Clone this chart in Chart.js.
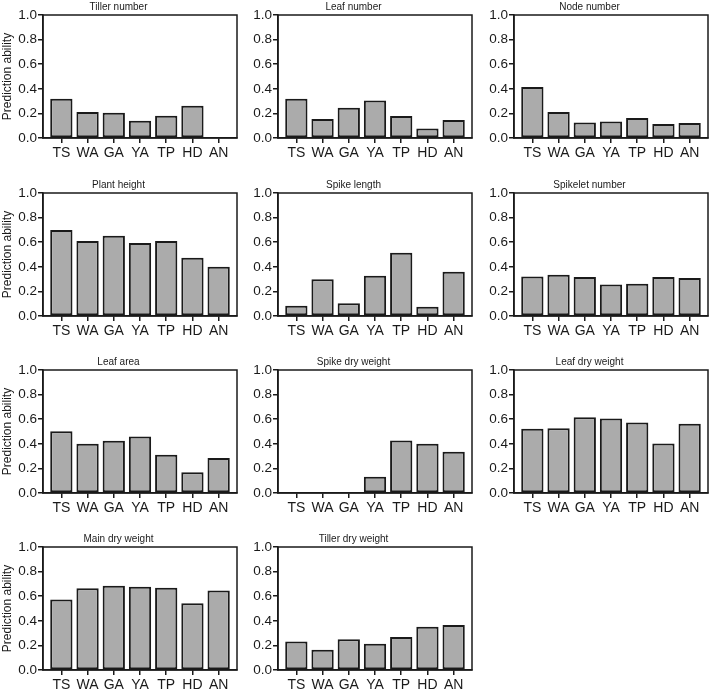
<!DOCTYPE html>
<html>
<head>
<meta charset="utf-8">
<script src="https://cdn.jsdelivr.net/npm/chart.js@4.4.1/dist/chart.umd.min.js"></script>
<style>
  html, body { margin: 0; padding: 0; background: #ffffff; }
  body { width: 709px; height: 689px; position: relative; overflow: hidden; }
  canvas { position: absolute; }
</style>
</head>
<body>
<script>
// categories shared by every panel
var categories = ['TS', 'WA', 'GA', 'YA', 'TP', 'HD', 'AN'];
var yTicks = [0, 0.2, 0.4, 0.6, 0.8, 1.0];

// values, one array per trait
var tillerNumber = [0.319, 0.211, 0.205, 0.141, 0.181, 0.262, null];
var leafNumber = [0.319, 0.154, 0.246, 0.305, 0.178, 0.078, 0.146];
var nodeNumber = [0.414, 0.211, 0.127, 0.135, 0.162, 0.114, 0.122];
var plantHeight = [0.699, 0.610, 0.653, 0.593, 0.610, 0.474, 0.401];
var spikeLength = [0.084, 0.298, 0.103, 0.328, 0.515, 0.076, 0.360];
var spikeletNumber = [0.322, 0.336, 0.317, 0.257, 0.263, 0.317, 0.309];
var leafArea = [0.503, 0.400, 0.424, 0.459, 0.311, 0.168, 0.284];
var spikeDryWeight = [null, null, null, 0.132, 0.427, 0.400, 0.335];
var leafDryWeight = [0.522, 0.527, 0.616, 0.605, 0.573, 0.403, 0.562];
var mainDryWeight = [0.573, 0.665, 0.684, 0.676, 0.668, 0.543, 0.646];
var tillerDryWeight = [0.232, 0.165, 0.249, 0.214, 0.268, 0.351, 0.365];

var panels = [
    { title: 'Tiller number', values: tillerNumber },
    { title: 'Leaf number', values: leafNumber },
    { title: 'Node number', values: nodeNumber },
    { title: 'Plant height', values: plantHeight },
    { title: 'Spike length', values: spikeLength },
    { title: 'Spikelet number', values: spikeletNumber },
    { title: 'Leaf area', values: leafArea },
    { title: 'Spike dry weight', values: spikeDryWeight },
    { title: 'Leaf dry weight', values: leafDryWeight },
    { title: 'Main dry weight', values: mainDryWeight },
    { title: 'Tiller dry weight', values: tillerDryWeight }
];

// where the plot boxes sit on the page
var colLeft = [43, 278, 514];
var rowTop = [15, 193, 370, 547];
var plotW = 194;
var plotH = 123;
var yAxisW = 43;
var titleH = 16;
var xAxisH = 30;

var ink = '#1a1a1a';
var fontFamily = "'Liberation Sans', Arial, sans-serif";

// draws the closed box round the plot area
var framePlugin = {
    id: 'frame',
    afterDraw: function(chart) {
        var a = chart.chartArea;
        var ctx = chart.ctx;
        ctx.save();
        ctx.strokeStyle = ink;
        ctx.lineWidth = 1.5;
        ctx.strokeRect(a.left, a.top, a.right - a.left, a.bottom - a.top);
        ctx.restore();
    }
};

panels.forEach(function(p, idx) {
    var col = idx % 3;
    var row = Math.floor(idx / 3);
    var canvas = document.createElement('canvas');
    canvas.width = yAxisW + plotW + 2;
    canvas.height = titleH + plotH + xAxisH;
    canvas.style.left = (colLeft[col] - yAxisW) + 'px';
    canvas.style.top = (rowTop[row] - titleH) + 'px';
    document.body.appendChild(canvas);

    var points = p.values.map(function(v, i) { return { x: i, y: v }; });

    new Chart(canvas, {
        type: 'bar',
        data: {
            datasets: [{
                data: points,
                backgroundColor: '#ababab',
                borderColor: ink,
                borderWidth: 2,
                borderSkipped: false,
                categoryPercentage: 1,
                barPercentage: 0.85
            }]
        },
        options: {
            responsive: false,
            animation: false,
            layout: { padding: { left: 0, right: 2, top: 0, bottom: 0 } },
            plugins: {
                legend: { display: false },
                tooltip: { enabled: false },
                title: {
                    display: true,
                    text: p.title,
                    color: ink,
                    font: { size: 10, family: fontFamily, weight: 400 },
                    padding: { top: 2, bottom: 2 }
                }
            },
            scales: {
                x: {
                    type: 'linear',
                    min: -0.7,
                    max: 6.7,
                    offset: false,
                    afterBuildTicks: function(scale) {
                        scale.ticks = categories.map(function(c, i) { return { value: i }; });
                    },
                    afterFit: function(scale) { scale.height = xAxisH; },
                    ticks: {
                        autoSkip: false,
                        maxRotation: 0,
                        padding: 2,
                        color: ink,
                        font: { size: 14, family: fontFamily },
                        callback: function(value) { return categories[value]; }
                    },
                    grid: { offset: false, drawOnChartArea: false, tickLength: 5, color: ink, lineWidth: 1.5 },
                    border: { display: true, color: ink, width: 1.5 }
                },
                y: {
                    min: 0,
                    max: 1,
                    afterBuildTicks: function(scale) {
                        scale.ticks = yTicks.map(function(v) { return { value: v }; });
                    },
                    afterFit: function(scale) { scale.width = yAxisW; },
                    ticks: {
                        padding: 1,
                        color: ink,
                        font: { size: 13.5, family: fontFamily },
                        callback: function(value) { return value.toFixed(1); }
                    },
                    grid: { drawOnChartArea: false, tickLength: 5, color: ink, lineWidth: 1.5 },
                    border: { display: true, color: ink, width: 1.5 },
                    title: {
                        display: col === 0,
                        text: 'Prediction ability',
                        color: ink,
                        font: { size: 12, family: fontFamily },
                        padding: { top: 0, bottom: 0 }
                    }
                }
            }
        },
        plugins: [framePlugin]
    });
});
</script>
</body>
</html>
